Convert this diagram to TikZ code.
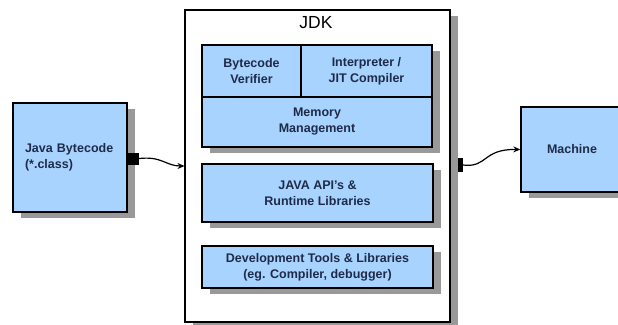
\documentclass[tikz,border=0pt]{standalone}
\usepackage{fontspec}
\setmainfont{Liberation Sans}
\usetikzlibrary{arrows.meta,backgrounds}
\definecolor{boxblue}{HTML}{A8D3FF}
\definecolor{shadowc}{HTML}{999999}
\definecolor{txtc}{HTML}{1E2B48}
\tikzset{
  blk/.style={draw=black, line width=1.4pt, fill=boxblue, text=txtc,
    font=\fontsize{12.5}{16}\selectfont\bfseries, align=center, inner sep=0pt},
  shd/.style={fill=shadowc},
  port/.style={fill=black, draw=none, inner sep=0pt},
  conn/.style={line width=1.2pt, -{Stealth[length=7pt,width=6pt]}},
}
\begin{document}
\begin{tikzpicture}[x=1pt,y=-1pt]
\useasboundingbox (0,0) rectangle (618,324);
\clip (0,0) rectangle (618,324);
\fill[white] (0,0) rectangle (618,324);
% JDK container
\fill[shd] (193,16) rectangle (458,330);
\node[draw=black, line width=1.4pt, fill=white, minimum width=265pt, minimum height=312pt, inner sep=0pt] (jdk) at (317.5,166) {};
\node[font=\fontsize{17.5}{20}\selectfont] (jdklabel) at (316,23) {JDK};
% Java bytecode
\fill[shd] (21,109) rectangle (135,218);
\node[blk, minimum height=109pt, text width=90pt, inner xsep=12pt, align=left] (java) at (70,157.5) {Java Bytecode\\(*.class)};
% top group
\fill[shd] (210,51) rectangle (440,153);
\node[blk, minimum width=99pt, minimum height=52pt] (bv) at (251.5,71) {Bytecode\\Verifier};
\node[blk, minimum width=131pt, minimum height=52pt] (jit) at (366.5,71) {Interpreter /\\JIT Compiler};
\node[blk, minimum width=230pt, minimum height=50pt] (mem) at (317,122) {Memory\\Management};
% API
\fill[shd] (210,170) rectangle (441,228);
\node[blk, minimum width=231pt, minimum height=58pt] (api) at (317.5,193) {JAVA API's \&\\Runtime Libraries};
% Dev tools
\fill[shd] (210,252) rectangle (441,294);
\node[blk, minimum width=231pt, minimum height=42pt] (dev) at (317.5,267) {Development Tools \& Libraries\\(eg. Compiler, debugger)};
% Machine
\fill[shd] (529,113) rectangle (631,198);
\node[blk, minimum width=102pt, minimum height=85pt] (mach) at (572,149.5) {Machine};
% ports and connectors
\node[port, minimum width=12pt, minimum height=12pt] (portL) at (133,158.5) {};
\coordinate (inL) at (184.5,166);
\draw[conn] (portL.east) .. controls (162,156) and (166,166) .. (inL);
\node[port, minimum width=5pt, minimum height=14pt] (portR) at (460,165) {};
\draw[conn] (portR.east) .. controls (488,168) and (482,149) .. (mach.west);
\end{tikzpicture}
\end{document}
